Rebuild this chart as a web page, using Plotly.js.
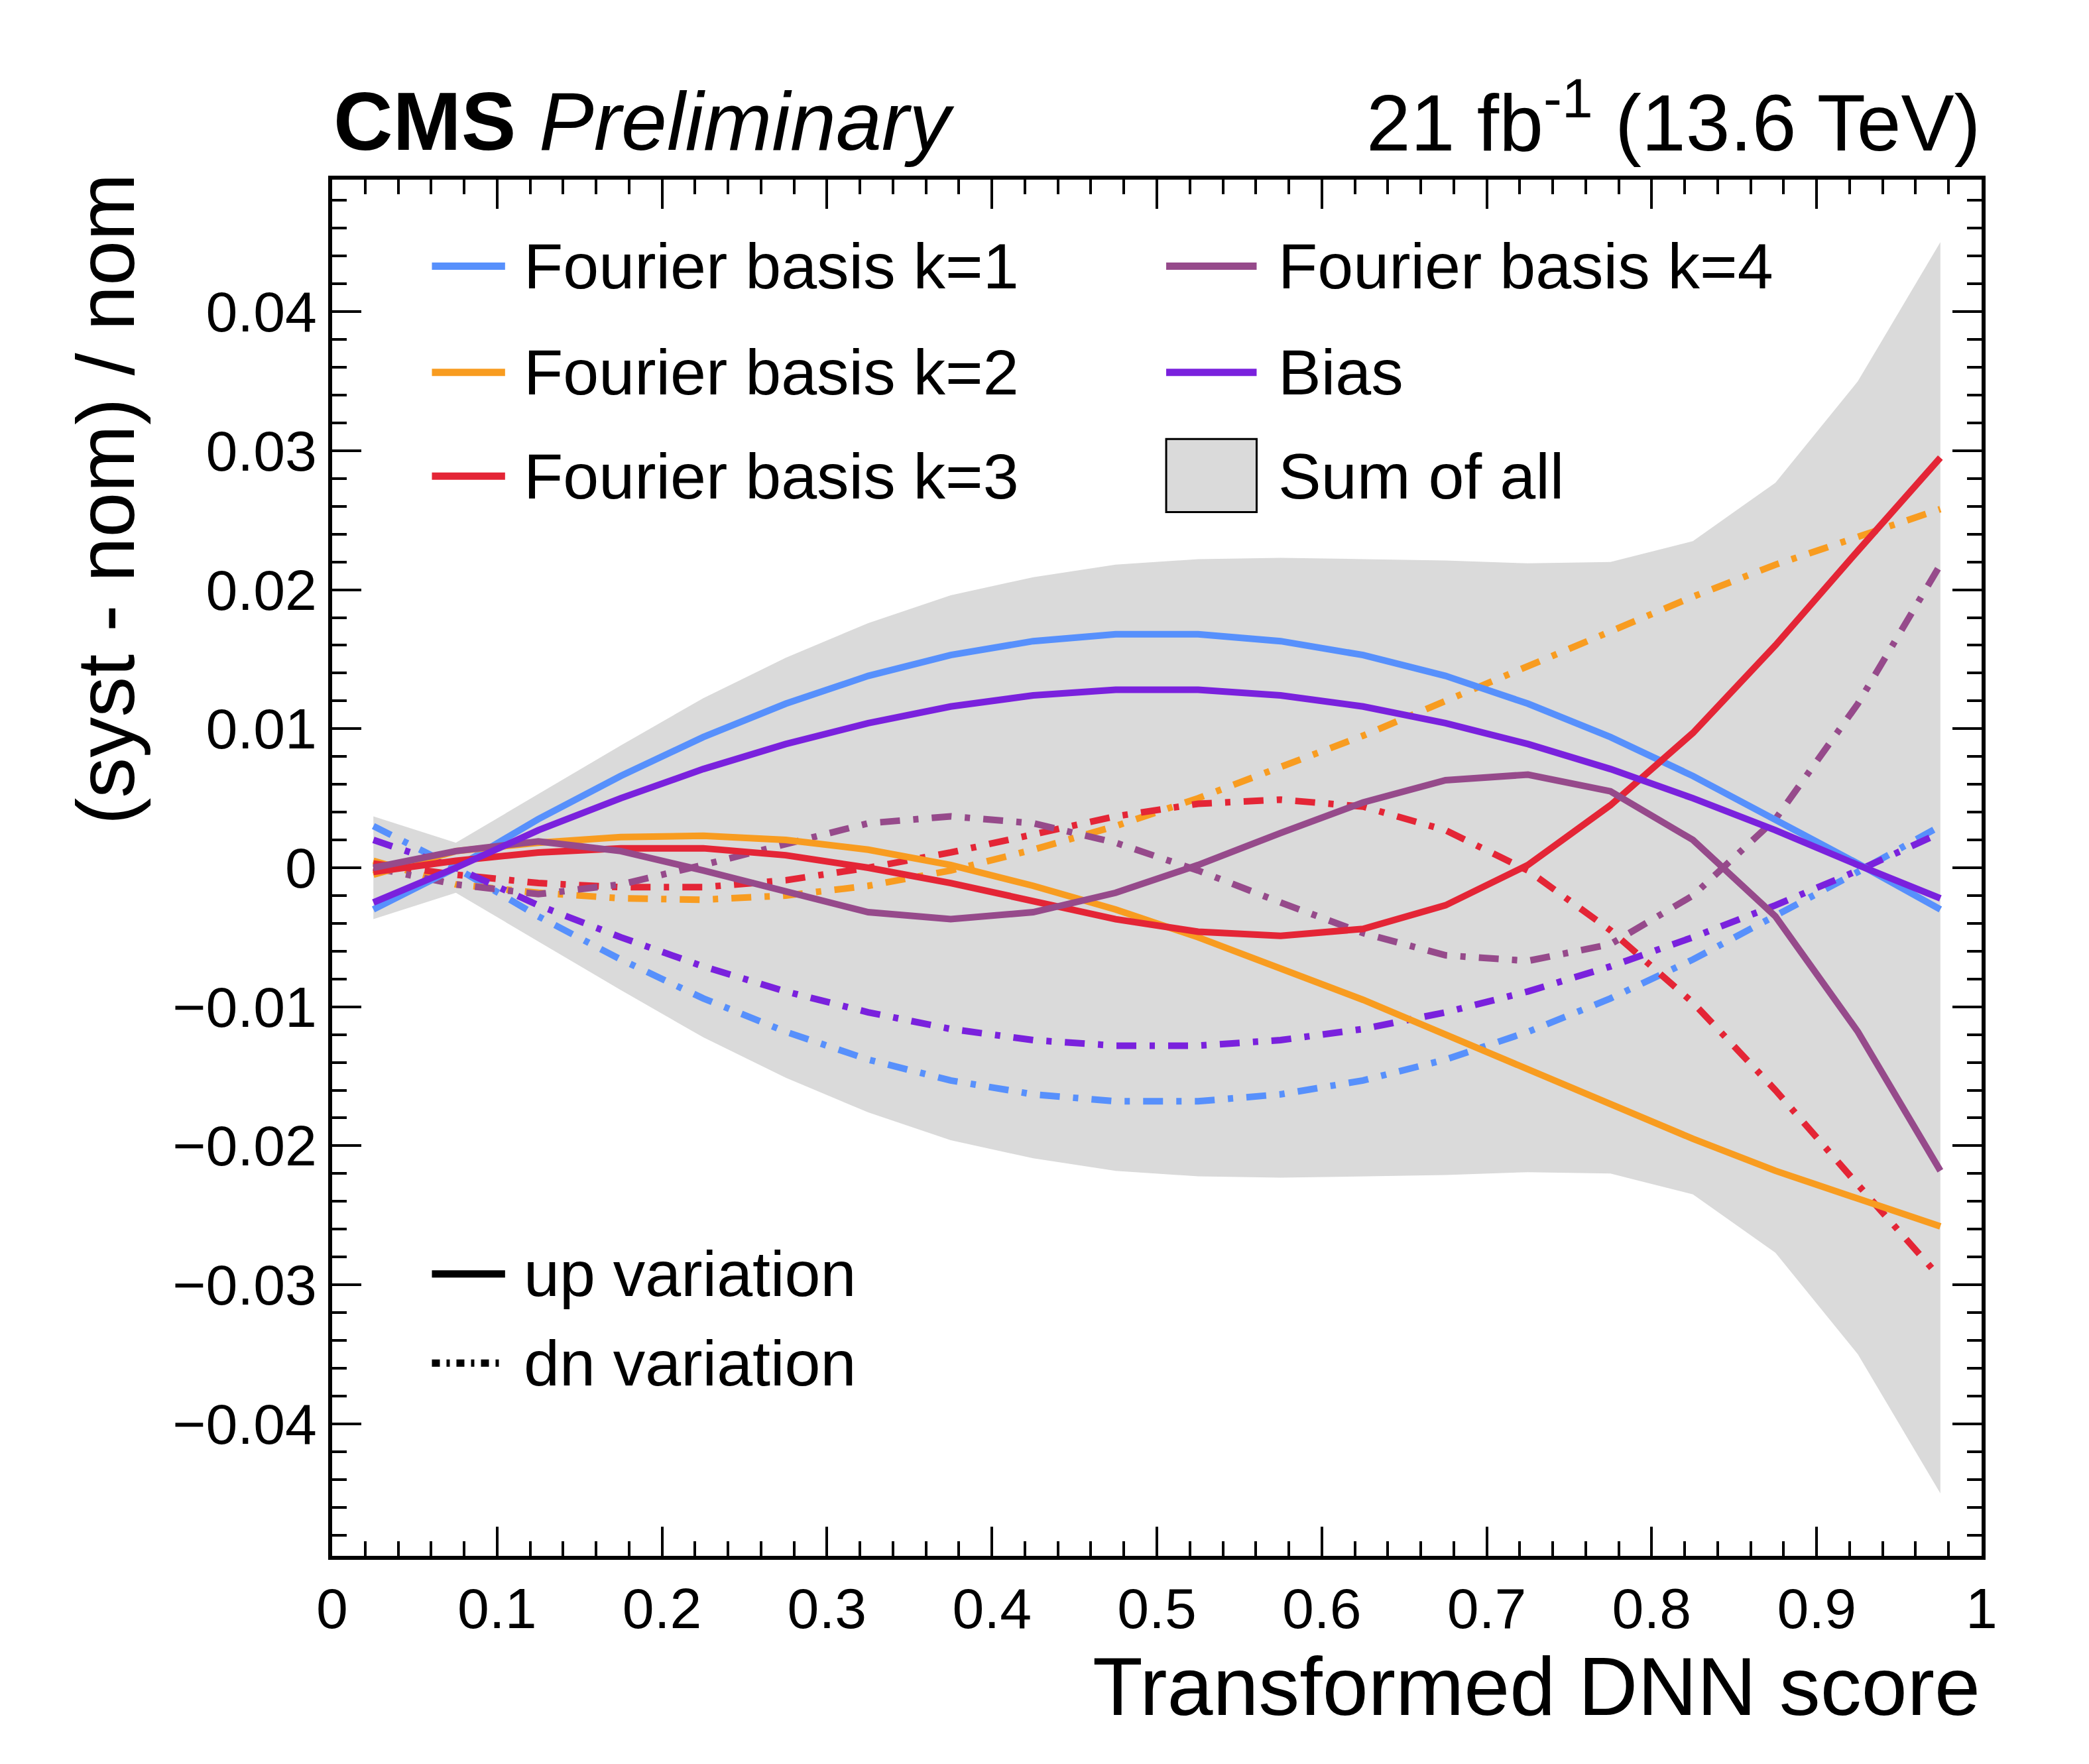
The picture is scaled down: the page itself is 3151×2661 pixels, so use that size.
<!DOCTYPE html>
<html><head><meta charset="utf-8">
<script src="https://cdn.plot.ly/plotly-3.0.1.min.js"></script>
<style>html,body{margin:0;padding:0;background:#fff}</style>
</head><body><div id="c" style="width:3151px;height:2661px"></div>
<script>
const xs = [0.025,0.075,0.125,0.175,0.225,0.275,0.325,0.375,0.425,0.475,0.525,0.575,0.625,0.675,0.725,0.775,0.825,0.875,0.925,0.975];
const k1Up = [-0.003,0.000,0.0035,0.0066,0.0094,0.0118,0.0138,0.0153,0.0163,0.0168,0.0168,0.0163,0.0153,0.0138,0.0118,0.0094,0.0066,0.0035,0.0003,-0.003];
const k1Dn = [0.003,0.000,-0.0035,-0.0066,-0.0094,-0.0118,-0.0138,-0.0153,-0.0163,-0.0168,-0.0168,-0.0163,-0.0153,-0.0138,-0.0118,-0.0094,-0.0066,-0.0035,-0.0003,0.003];
const k2Up = [-0.0005,0.0012,0.0018,0.0022,0.0023,0.002,0.0013,0.0002,-0.0013,-0.003,-0.005,-0.0072,-0.0095,-0.012,-0.0145,-0.017,-0.0195,-0.0218,-0.0238,-0.0258];
const k2Dn = [0.0005,-0.0012,-0.0018,-0.0022,-0.0023,-0.002,-0.0013,-0.0002,0.0013,0.003,0.005,0.0072,0.0095,0.012,0.0145,0.017,0.0195,0.0218,0.0238,0.0258];
const k3Up = [-0.0003,0.0005,0.0011,0.0014,0.0014,0.0009,0.0,-0.0011,-0.0024,-0.0037,-0.0046,-0.0049,-0.0044,-0.0027,0.0002,0.0045,0.0097,0.016,0.0228,0.0295];
const k3Dn = [0.0003,-0.0005,-0.0011,-0.0014,-0.0014,-0.0009,0.0,0.0011,0.0024,0.0037,0.0046,0.0049,0.0044,0.0027,-0.0002,-0.0045,-0.0097,-0.016,-0.0228,-0.0295];
const k4Up = [0.0,0.0012,0.0019,0.0012,-0.0002,-0.0017,-0.0032,-0.0037,-0.0032,-0.0018,0.0002,0.0025,0.0047,0.0063,0.0067,0.0055,0.002,-0.0035,-0.0118,-0.0218];
const k4Dn = [0.0,-0.0012,-0.0019,-0.0012,0.0002,0.0017,0.0032,0.0037,0.0032,0.0018,-0.0002,-0.0025,-0.0047,-0.0063,-0.0067,-0.0055,-0.002,0.0035,0.0118,0.0218];
const biasUp = [-0.0025,0.0,0.0027,0.005,0.0071,0.0089,0.0104,0.0116,0.0124,0.0128,0.0128,0.0124,0.0116,0.0104,0.0089,0.0071,0.005,0.0027,0.0002,-0.0022];
const biasDn = [0.002,0.0,-0.0027,-0.005,-0.0071,-0.0089,-0.0104,-0.0116,-0.0124,-0.0128,-0.0128,-0.0124,-0.0116,-0.0104,-0.0089,-0.0071,-0.005,-0.0027,-0.0002,0.0025];
const bandHi = [0.0037,0.0018,0.0053,0.0088,0.0122,0.0151,0.0176,0.0196,0.0209,0.0218,0.0222,0.0223,0.0222,0.0221,0.0219,0.022,0.0235,0.0277,0.035,0.045];
const bandLo = bandHi.map(v=>-v);
const names = ["Fourier basis k=1","Fourier basis k=2","Fourier basis k=3","Fourier basis k=4","Bias"];
const colors = ["#5790fc","#f89c20","#e42536","#964a8b","#7a21dd"];
const ups = [k1Up,k2Up,k3Up,k4Up,biasUp], dns=[k1Dn,k2Dn,k3Dn,k4Dn,biasDn];
const W=10, DASH="30px,20px,8px,20px";
const traces=[];
traces.push({x:xs.concat(xs.slice().reverse()),y:bandHi.concat(bandLo.slice().reverse()),fill:'toself',fillcolor:'#dadada',line:{width:0},mode:'lines',hoverinfo:'skip',showlegend:false});
for(let i=0;i<5;i++){
  traces.push({x:xs,y:dns[i],mode:'lines',line:{color:colors[i],width:W,dash:DASH},showlegend:false});
}
for(let i=0;i<5;i++){
  traces.push({x:xs,y:ups[i],mode:'lines',line:{color:colors[i],width:W},showlegend:false});
}
traces.push({x:[0.5],y:[0],xaxis:'x2',yaxis:'y2',mode:'lines',line:{width:0},showlegend:false,hoverinfo:'skip'});
const F="Liberation Sans, Arial, sans-serif";
const px=d=>(d-250)/1240, py=d=>(1170-d)/1035;
const shapes=[], ann=[];
function key(x0,x1,y,color,dash){shapes.push({type:'line',xref:'paper',yref:'paper',x0:px(x0),x1:px(x1),y0:py(y),y1:py(y),line:{color:color,width:11,dash:dash||'solid'}});}
function txt(x,y,t){ann.push({xref:'paper',yref:'paper',x:px(x),y:py(y),xanchor:'left',yanchor:'middle',text:t,showarrow:false,font:{family:F,size:97,color:'#000'}});}
const rows=[200,280,358];
for(let i=0;i<3;i++){key(325,380,rows[i],colors[i]);txt(393,rows[i],names[i]);}
key(877,945,200,colors[3]);txt(960,200,names[3]);
key(877,945,280,colors[4]);txt(960,280,names[4]);
shapes.push({type:'rect',xref:'paper',yref:'paper',x0:px(877),x1:px(945),y0:py(385),y1:py(330),fillcolor:'#dadada',line:{color:'#000',width:3}});
txt(960,358,"Sum of all");
key(325,380,958,'#000');txt(393,958,"up variation");
key(325,380,1025,'#000','12px,10px,5px,10px');txt(393,1025,"dn variation");
ann.push({xref:'paper',yref:'paper',x:0,y:1.008,xanchor:'left',yanchor:'bottom',showarrow:false,text:"<b>CMS</b> <i>Preliminary</i>",font:{family:F,size:124,color:'#000'}});
ann.push({xref:'paper',yref:'paper',x:1,y:1.008,xanchor:'right',yanchor:'bottom',showarrow:false,text:"21 fb<sup>-1</sup> (13.6 TeV)",font:{family:F,size:120,color:'#000'}});
ann.push({xref:'paper',yref:'paper',x:1,y:py(1268),xanchor:'right',yanchor:'middle',showarrow:false,text:"Transformed DNN score",font:{family:F,size:124,color:'#000'}});
ann.push({xref:'paper',yref:'paper',x:px(80),y:py(375),xanchor:'center',yanchor:'middle',textangle:-90,showarrow:false,text:"(syst - nom) / nom",font:{family:F,size:122,color:'#000'}});
const ax={showgrid:false,zeroline:false,ticks:'inside',ticklen:44,tickwidth:4,tickcolor:'#000',showline:true,linecolor:'#000',linewidth:6,mirror:true,tickfont:{family:F,size:86,color:'#000'}};
const mx={dtick:0.02,ticklen:22,tickwidth:4,ticks:'inside',tickcolor:'#000'};
const my={dtick:0.002,ticklen:22,tickwidth:4,ticks:'inside',tickcolor:'#000'};
const layout={
  width:3151,height:2661,paper_bgcolor:'#fff',plot_bgcolor:'#fff',
  margin:{l:501,r:162,t:271,b:314},showlegend:false,
  xaxis:Object.assign({},ax,{range:[0,1],dtick:0.1,tick0:0,minor:mx}),
  yaxis:Object.assign({},ax,{range:[-0.0495,0.0495],dtick:0.01,tick0:0,minor:my}),
  xaxis2:Object.assign({},ax,{overlaying:'x',side:'top',range:[0,1],dtick:0.1,tick0:0,showticklabels:false,minor:mx}),
  yaxis2:Object.assign({},ax,{overlaying:'y',side:'right',range:[-0.0495,0.0495],dtick:0.01,tick0:0,showticklabels:false,minor:my}),
  shapes:shapes,annotations:ann
};
Plotly.newPlot('c',traces,layout,{staticPlot:true});
</script></body></html>
